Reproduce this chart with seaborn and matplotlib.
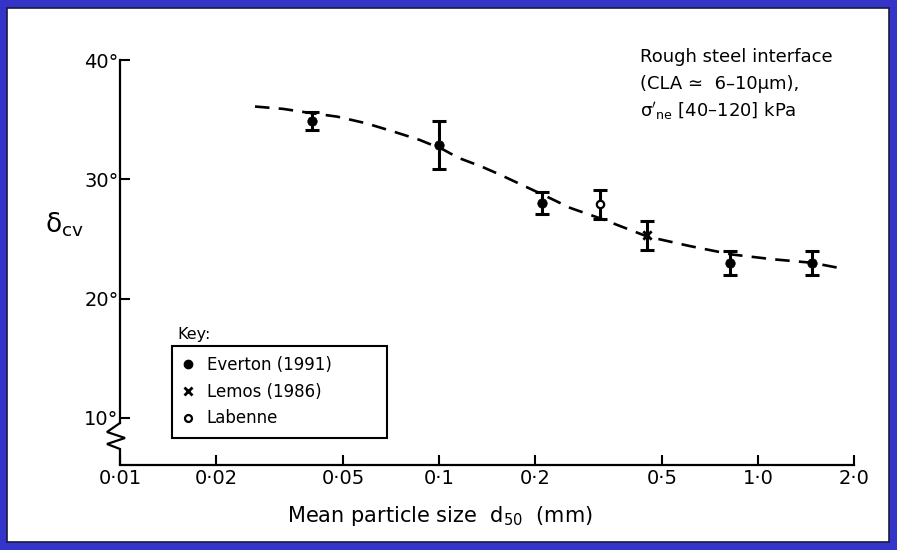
import numpy as np
import pandas as pd
import matplotlib
matplotlib.use("Agg")
import matplotlib.pyplot as plt
import seaborn as sns
from matplotlib.patches import Rectangle
from matplotlib.lines import Line2D

# ---------------- data ----------------
everton_d50 = [0.04, 0.10, 0.21, 0.82, 1.48]
everton_delta = [34.9, 32.9, 28.0, 23.0, 23.0]
everton_err = [0.75, 2.0, 0.9, 1.0, 1.0]

lemos_d50 = [0.45]
lemos_delta = [25.3]
lemos_err = [1.2]

labenne_d50 = [0.32]
labenne_delta = [27.9]
labenne_err = [1.2]

trend_d50 = [0.0265, 0.0325, 0.0385, 0.048, 0.059, 0.072, 0.087, 0.103, 0.115,
             0.135, 0.155, 0.212, 0.258, 0.322, 0.45, 0.612, 0.827, 1.11, 1.48, 1.77]
trend_delta = [36.1, 35.9, 35.6, 35.25, 34.7, 34.0, 33.3, 32.5, 31.8,
               31.1, 30.4, 28.7, 27.6, 26.7, 25.2, 24.4, 23.7, 23.3, 23.0, 22.6]

xticks = [0.01, 0.02, 0.05, 0.1, 0.2, 0.5, 1.0, 2.0]
xticklabels = ["0·01", "0·02", "0·05", "0·1", "0·2", "0·5", "1·0", "2·0"]
yticks = [10, 20, 30, 40]
yticklabels = ["10°", "20°", "30°", "40°"]

series_names = ["Everton (1991)", "Lemos (1986)", "Labenne"]

# ---------------- figure ----------------
sns.set_style("ticks")
plt.rcParams['font.family'] = ['DejaVu Sans']
plt.rcParams.update({'text.color': 'black', 'axes.labelcolor': 'black',
                     'xtick.color': 'black', 'ytick.color': 'black',
                     'axes.edgecolor': 'black'})

W, H = 897, 550
fig = plt.figure(figsize=(W / 100, H / 100), dpi=100)
fig.patch.set_facecolor('#3434C8')
fig.patches.append(Rectangle((7 / W, 1 - 542 / H), (889 - 7) / W, (542 - 8) / H,
                             transform=fig.transFigure, facecolor='white',
                             edgecolor='#1a1a40', lw=1.2, zorder=-10))

ax_l, ax_r, ax_t, ax_b = 120, 854, 60, 465
ax = fig.add_axes([ax_l / W, 1 - ax_b / H, (ax_r - ax_l) / W, (ax_b - ax_t) / H])
ax.set_facecolor('none')
ax.set_xscale('log')
ax.set_xlim(0.01, 2.0)
ax.set_ylim(6.05, 40)

# trend curve
sns.lineplot(x=trend_d50, y=trend_delta, ax=ax, color='black', lw=1.9,
             linestyle=(0, (5.5, 3.5)), sort=True, estimator=None)

# error bars
for xs, ys, es in [(everton_d50, everton_delta, everton_err),
                   (lemos_d50, lemos_delta, lemos_err),
                   (labenne_d50, labenne_delta, labenne_err)]:
    ax.errorbar(xs, ys, yerr=es, fmt='none', ecolor='black',
                elinewidth=2.2, capsize=5, capthick=2.2, zorder=3)

# markers
sns.scatterplot(x=everton_d50, y=everton_delta, ax=ax, marker='o', s=46,
                color='black', edgecolor='black', zorder=4)
sns.scatterplot(x=lemos_d50, y=lemos_delta, ax=ax, marker='x', s=36,
                color='black', linewidth=2.0, zorder=4)
sns.scatterplot(x=labenne_d50, y=labenne_delta, ax=ax, marker='o', s=28,
                facecolor='white', edgecolor='black', linewidth=1.6, zorder=5)

# axes styling
for s in ['top', 'right']:
    ax.spines[s].set_visible(False)
for s in ['left', 'bottom']:
    ax.spines[s].set_linewidth(1.6)
    ax.spines[s].set_color('black')
zig_top_val = 40 - (423 - 60) / 11.93
ax.spines['left'].set_bounds(zig_top_val, 40)

ax.set_xticks(xticks)
ax.set_xticklabels(xticklabels)
ax.xaxis.set_minor_locator(matplotlib.ticker.NullLocator())
ax.set_yticks(yticks)
ax.set_yticklabels(yticklabels)
ax.tick_params(axis='both', direction='in', length=7, width=1.5, colors='black',
               labelsize=14)
ax.tick_params(axis='x', pad=3)
ax.tick_params(axis='y', pad=1)

# axis break zigzag
aw, ah = ax_r - ax_l, ax_b - ax_t
zx_px = [0, -13, 5, -13, 0, 0]
zy_px = [423, 432, 438, 444, 449, 465]
ax.plot([d / aw for d in zx_px], [(ax_b - p) / ah for p in zy_px], color='black',
        lw=1.6, transform=ax.transAxes, clip_on=False, solid_joinstyle='miter')

# key box
handles = [
    Line2D([], [], ls='none', marker='o', ms=6, mfc='black', mec='black'),
    Line2D([], [], ls='none', marker='x', ms=6, mec='black', mew=2.0),
    Line2D([], [], ls='none', marker='o', ms=5, mfc='white', mec='black', mew=1.6),
]
leg = ax.legend(handles, series_names, loc='upper left',
                bbox_to_anchor=((180 - ax_l) / aw, (ax_b - 356) / ah),
                frameon=False, fontsize=12, handlelength=1.0, handletextpad=0.6,
                labelspacing=0.52, borderpad=0, borderaxespad=0)
ax.add_patch(Rectangle(((172 - ax_l) / aw, (ax_b - 438) / ah), (387 - 172) / aw,
                       (438 - 346) / ah, transform=ax.transAxes, fill=False,
                       edgecolor='black', lw=1.5, clip_on=False))
ax.text((177 - ax_l) / aw, (ax_b - 335) / ah, "Key:", transform=ax.transAxes,
        fontsize=11.5, ha='left', va='center')

# annotation
fig.text(640 / W, 1 - 62 / H, "Rough steel interface", fontsize=13, ha='left', va='baseline')
fig.text(640 / W, 1 - 89 / H, "(CLA ≃  6–10μm),", fontsize=13, ha='left', va='baseline')
fig.text(640 / W, 1 - 117 / H, r"$\mathrm{σ}'_{\mathrm{ne}}$ [40–120] kPa", fontsize=13,
         ha='left', va='baseline')

# axis labels
fig.text(45 / W, 1 - 225 / H, r"$\mathrm{δ}_{\mathrm{cv}}$", fontsize=19, ha='left', va='center')
fig.text(440 / W, 1 - 516 / H, r"Mean particle size  d$_{50}$  (mm)", fontsize=15,
         ha='center', va='center')

fig.savefig("out.png", dpi=100)
